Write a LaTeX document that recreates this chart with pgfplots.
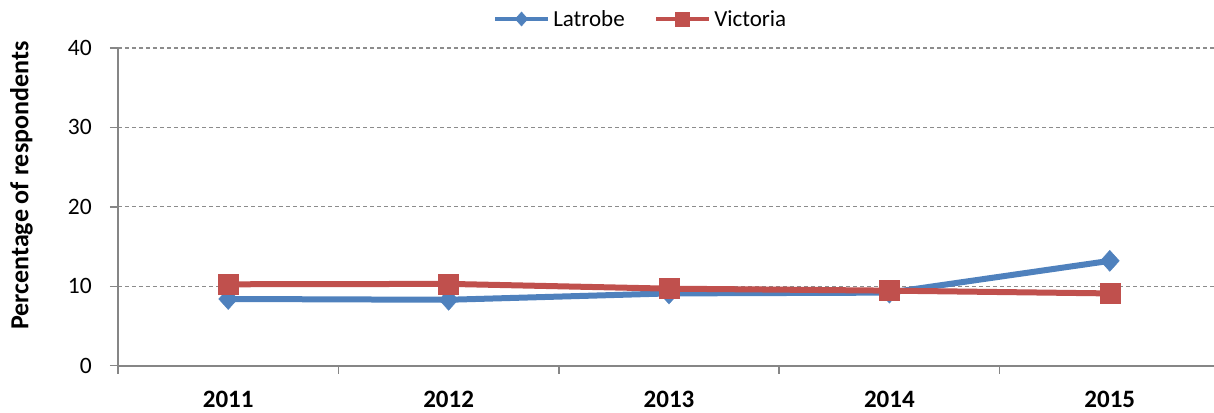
\documentclass[border=0pt]{standalone}
\usepackage{pgfplots}
\pgfplotsset{compat=1.18}
\usepackage{fontspec}
\setmainfont{Carlito}
\definecolor{lblue}{HTML}{4F81BD}
\definecolor{lred}{HTML}{C0504D}
\definecolor{axgray}{HTML}{868686}
\definecolor{gridgray}{HTML}{8C8C8C}
\begin{document}
\begin{tikzpicture}[x=1pt,y=1pt]
\path[use as bounding box] (-118,-46.3) rectangle (1096,365.7);
\begin{axis}[
  at={(0,0)}, anchor=south west,
  scale only axis, width=1102pt, height=317.7pt,
  xmin=-0.5, xmax=4.5, ymin=0, ymax=40,
  axis x line=bottom, axis y line=left,
  axis line style={-, draw=axgray, line width=1.8pt},
  xtick={-0.5,0.5,1.5,2.5,3.5,4.5},
  x tick label as interval,
  xticklabels={\textbf{2011},\textbf{2012},\textbf{2013},\textbf{2014},\textbf{2015}},
  ytick={0,10,20,30,40},
  tick align=outside, major tick length=8pt,
  tick style={draw=axgray, line width=1.5pt},
  ymajorgrids,
  grid style={draw=gridgray, line width=1.1pt, dash pattern=on 4pt off 3pt},
  /pgf/number format/assume math mode=true,
  xticklabel style={font=\fontsize{25}{30}\selectfont\bfseries, anchor=north, inner sep=0pt, yshift=-17pt},
  yticklabel style={font=\fontsize{23.5}{28}\selectfont, anchor=east, inner sep=0pt, xshift=-18pt},
  ylabel={\textbf{Percentage of respondents}},
  ylabel style={font=\fontsize{26}{30}\selectfont\bfseries, at={(axis description cs:-0.0771,0.567)}, anchor=south, inner sep=0pt},
  legend columns=2,
  legend style={draw=none, fill=none, at={(axis description cs:0.4746,1.0913)}, anchor=center,
    font=\fontsize{23}{27}\selectfont,
    /tikz/every even column/.append style={column sep=26pt},
    nodes={inner xsep=3pt, inner ysep=0pt}},
  legend image code/.code={\draw[#1, mark repeat=2, mark phase=2, mark size=7pt, line width=4.5pt] plot coordinates {(0pt,0pt) (26.5pt,0pt) (53pt,0pt)};},
]
\addplot[color=lblue, line width=6pt, mark=diamond*, mark size=10.5pt, mark options={solid, xscale=1.2, line width=0.5pt, fill=lblue}]
  coordinates {(0,8.4) (1,8.3) (2,9.1) (3,9.2) (4,13.2)};
\addlegendentry{Latrobe}
\addplot[color=lred, line width=6pt, mark=square*, mark size=10pt, mark options={solid, line width=0.5pt, fill=lred}]
  coordinates {(0,10.25) (1,10.3) (2,9.7) (3,9.45) (4,9.1)};
\addlegendentry{Victoria}
\end{axis}
\end{tikzpicture}
\end{document}
